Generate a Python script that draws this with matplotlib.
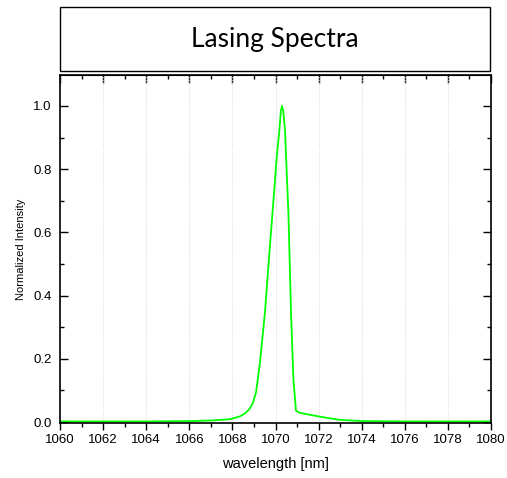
import matplotlib
matplotlib.use('Agg')
import matplotlib.pyplot as plt
from matplotlib.patches import Rectangle

wavelength = [1060, 1062, 1064, 1066, 1067, 1067.9, 1068.35, 1068.6, 1068.8,
              1068.95, 1069.1, 1069.28, 1069.51, 1069.74, 1069.98, 1070.06,
              1070.18, 1070.25, 1070.3, 1070.36, 1070.44, 1070.6, 1070.72,
              1070.83, 1070.95, 1071.1, 1071.44, 1071.99, 1072.5, 1073, 1074,
              1076, 1078, 1080]
intensity = [0.002, 0.002, 0.002, 0.003, 0.005, 0.009, 0.018, 0.028, 0.042,
             0.06, 0.095, 0.189, 0.347, 0.556, 0.767, 0.84,
             0.924, 0.985, 1.0, 0.985, 0.924, 0.66, 0.347,
             0.136, 0.036, 0.03, 0.025, 0.018, 0.012, 0.007, 0.003,
             0.002, 0.002, 0.002]

x_ticks = list(range(1060, 1081, 2))
y_ticks = [0.0, 0.2, 0.4, 0.6, 0.8, 1.0]

plt.rcParams['font.family'] = ['Liberation Sans', 'DejaVu Sans']

W, H = 507, 478
fig = plt.figure(figsize=(W / 100, H / 100), dpi=100)

# title box
fig.patches.append(Rectangle((60 / W, 1 - 71 / H), 430 / W, 64 / H,
                             transform=fig.transFigure, fill=False,
                             edgecolor='black', linewidth=1.0))
fig.text(275 / W, 1 - 39 / H, 'Lasing Spectra', family='Lato', fontsize=19,
         ha='center', va='center')

ax = fig.add_axes([60 / W, 55 / H, 431 / W, 348 / H])
ax.plot(wavelength, intensity, color='#00ff00', linewidth=1.3)

ax.set_xlim(1060, 1080)
ax.set_ylim(-0.003, 1.098)
ax.set_xticks(x_ticks)
ax.set_xticks(range(1061, 1080, 2), minor=True)
ax.set_yticks(y_ticks)
ax.set_yticks([0.1, 0.3, 0.5, 0.7, 0.9], minor=True)
ax.set_xticklabels([str(t) for t in x_ticks])
ax.set_yticklabels([f'{t:.1f}' for t in y_ticks])

ax.tick_params(axis='x', which='both', direction='out', bottom=True, top=False,
               labelsize=9.5, pad=3)
ax.tick_params(axis='x', which='major', length=5, width=1)
ax.tick_params(axis='x', which='minor', length=3, width=1)
ax.tick_params(axis='y', which='both', direction='in', left=True, right=True,
               labelsize=9.5, pad=6)
ax.tick_params(axis='y', which='major', length=6, width=1)
ax.tick_params(axis='y', which='minor', length=3, width=1)

# top ticks pointing inward
top = ax.secondary_xaxis('top')
top.set_xticks(x_ticks)
top.set_xticks(range(1061, 1080, 2), minor=True)
top.tick_params(which='both', direction='in', labeltop=False)
top.tick_params(which='major', length=6, width=1)
top.tick_params(which='minor', length=3, width=1)

for s in ax.spines.values():
    s.set_linewidth(1.2)

ax.grid(True, axis='x', linestyle=':', color='#d4d4d4', linewidth=0.7)
ax.set_axisbelow(True)

ax.set_xlabel('wavelength [nm]', fontsize=10.5, labelpad=8)
ax.set_ylabel('Normalized Intensity', fontsize=8, labelpad=5)

fig.savefig('out.png', dpi=100)
